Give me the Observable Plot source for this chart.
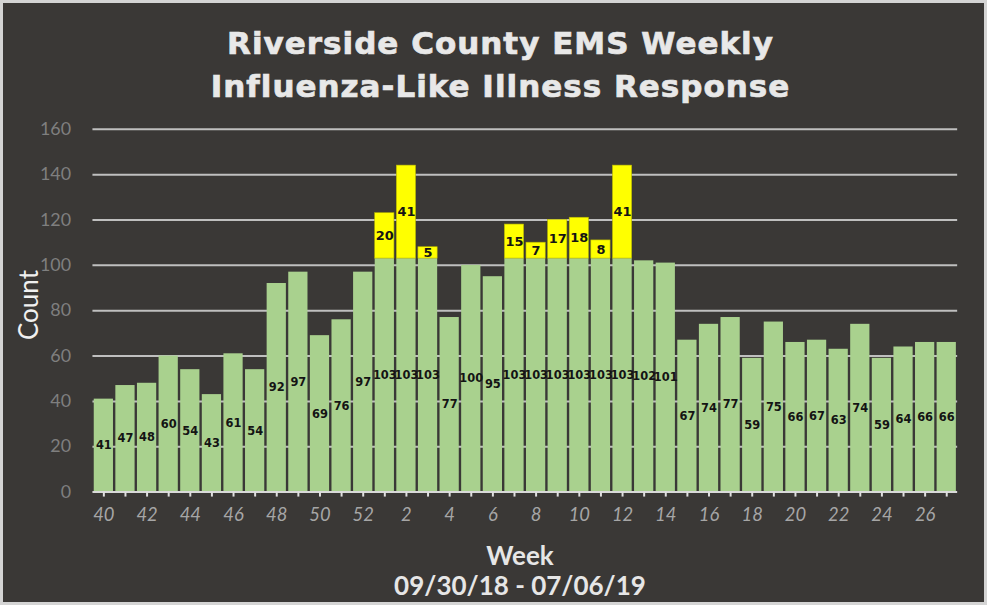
<!DOCTYPE html>
<html>
<head>
<meta charset="utf-8">
<script src="https://cdn.jsdelivr.net/npm/d3@7"></script>
<script src="https://cdn.jsdelivr.net/npm/@observablehq/plot@0.6"></script>
<style>
  html, body { margin: 0; padding: 0; background: #ffffff; }
  #chart {
    position: relative; width: 987px; height: 605px; box-sizing: border-box;
    background: #3a3836; border: 3px solid #d4d4d4; overflow: hidden;
  }
  .title {
    position: absolute; left: 0; width: 100%; text-align: center;
    font-family: "DejaVu Sans", sans-serif; font-weight: bold; font-size: 31px;
    color: #e8e8e8; letter-spacing: 1px; white-space: nowrap;
    -webkit-text-stroke: 0.7px #e8e8e8; padding-left: 14px; box-sizing: border-box;
  }
  .ylab {
    position: absolute; left: 25px; top: 302px; transform: translate(-50%, -50%) rotate(-90deg);
    font-family: Lato, sans-serif; font-size: 26px; color: #f0f0f0; white-space: nowrap;
  }
  .xlab {
    position: absolute; left: 0; width: 100%; text-align: center;
    font-family: Lato, sans-serif; font-weight: bold; font-size: 26px; color: #e6e6e6; white-space: nowrap;
    padding-left: 53px; box-sizing: border-box;
  }
  #plot { position: absolute; left: -3px; top: 97px; }
</style>
</head>
<body>
<div id="chart">
  <div class="title" style="top:22px;">Riverside County EMS Weekly</div>
  <div class="title" style="top:65px;">Influenza-Like Illness Response</div>
  <div class="ylab">Count</div>
  <div class="xlab" style="top:536px;">Week</div>
  <div class="xlab" style="top:566px;">09/30/18 - 07/06/19</div>
  <div id="plot"></div>
</div>
<script>
const weeks = ["40","41","42","43","44","45","46","47","48","49","50","51","52",
  "1","2","3","4","5","6","7","8","9","10","11","12","13","14","15","16","17","18","19","20",
  "21","22","23","24","25","26","27"];
const baseCounts = [41,47,48,60,54,43,61,54,92,97,69,76,97,
  103,103,103,77,100,95,103,103,103,103,103,103,102,101,67,74,77,59,75,66,
  67,63,74,59,64,66,66];
const extraCounts = [0,0,0,0,0,0,0,0,0,0,0,0,0,
  20,41,5,0,0,0,15,7,17,18,8,41,0,0,0,0,0,0,0,0,
  0,0,0,0,0,0,0];
const xTickLabels = ["40","42","44","46","48","50","52","2","4","6","8","10","12","14",
  "16","18","20","22","24","26"];
const yTicks = [0,20,40,60,80,100,120,140,160];

const data = weeks.map((w, i) => ({week: w, base: baseCounts[i], extra: extraCounts[i]}));
const extras = data.filter(d => d.extra > 0);
const labelSet = new Set(xTickLabels);

const chart = Plot.plot({
  width: 990,
  height: 448,
  marginTop: 29,
  marginBottom: 54,
  marginLeft: 93,
  marginRight: 27,
  style: {background: "transparent", color: "#8c8c8c", fontFamily: "Lato, sans-serif", overflow: "visible"},
  x: {domain: weeks, paddingInner: 0.11, paddingOuter: 0.06, round: false, label: null},
  y: {domain: [0, 160], label: null},
  marks: [
    Plot.ruleY(yTicks.filter(t => t > 0), {stroke: "#bfbfbf", strokeWidth: 2}),
    Plot.barY(data, {x: "week", y1: 0, y2: "base", fill: "#a9d18e"}),
    Plot.barY(extras, {x: "week", y1: "base", y2: d => d.base + d.extra, fill: "#ffff00", stroke: "#b8b800", strokeWidth: 0.6}),
    Plot.ruleY([0], {stroke: "#d9d9d9", strokeWidth: 2}),
    Plot.text(data, {x: "week", y: d => d.base / 2, text: d => String(d.base),
      fill: "#141414", fontFamily: "DejaVu Sans, sans-serif", fontWeight: "bold", fontSize: 11.5}),
    Plot.text(extras, {x: "week", y: d => d.base + d.extra / 2, text: d => String(d.extra),
      fill: "#141414", fontFamily: "DejaVu Sans, sans-serif", fontWeight: "bold", fontSize: 13}),
    Plot.axisX({tickSize: 5, tickPadding: 11, stroke: "#e0e0e0", strokeWidth: 2,
      tickFormat: d => labelSet.has(d) ? d : "", fontSize: 18.5, fontStyle: "italic",
      fill: "#a6a6a6", label: null}),
    Plot.axisY({ticks: yTicks, tickSize: 0, tickPadding: 22, fontSize: 18, fill: "#7f7f7f", label: null})
  ]
});
document.getElementById("plot").appendChild(chart);
</script>
</body>
</html>
